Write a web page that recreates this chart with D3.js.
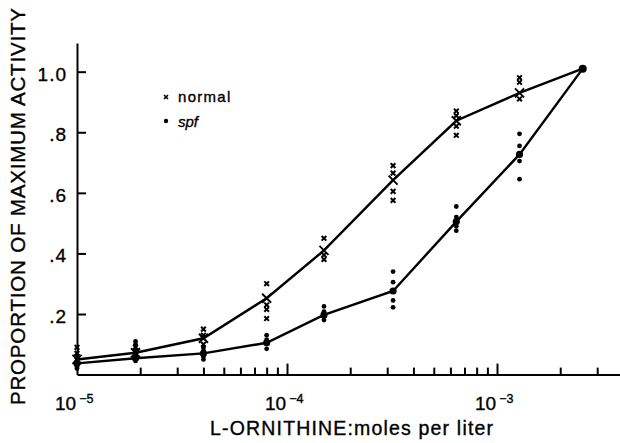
<!DOCTYPE html>
<html>
<head>
<meta charset="utf-8">
<script src="https://cdn.jsdelivr.net/npm/d3@7"></script>
<style>
  body { margin: 0; background: #fff; }
  svg { display: block; font-family: "Liberation Sans", Arial, Helvetica, sans-serif; }
  svg text { stroke: #000; stroke-width: 0.35; }
  .axis path, .axis line { stroke: #000; stroke-width: 2; }
</style>
</head>
<body>
<svg id="chart" width="620" height="443"></svg>
<script>
// concentrations (moles per liter)
const doses = [1e-5, 1.9e-5, 4e-5, 8e-5, 1.5e-4, 3.2e-4, 6.4e-4, 1.28e-3, 2.56e-3];

// line through the means
const normalMean = [0.05, 0.072, 0.12, 0.252, 0.41, 0.642, 0.838, 0.93, 1.01];
const spfMean = [0.037, 0.054, 0.07, 0.105, 0.197, 0.276, 0.505, 0.727, 1.01];

// single determinations at each concentration
const normalPoints = [
    [0.09, 0.07, 0.06],
    [0.09, 0.08, 0.065],
    [0.15, 0.13, 0.10],
    [0.30, 0.23, 0.215, 0.185],
    [0.45, 0.395, 0.38],
    [0.69, 0.665, 0.605, 0.575],
    [0.87, 0.855, 0.82, 0.79],
    [0.98, 0.965, 0.91],
    []
];
const spfPoints = [
    [0.045, 0.03, 0.025, 0.02],
    [0.11, 0.10, 0.06, 0.045],
    [0.09, 0.08, 0.06, 0.05],
    [0.13, 0.115, 0.085],
    [0.225, 0.208, 0.18],
    [0.34, 0.305, 0.245, 0.222],
    [0.555, 0.52, 0.49, 0.475],
    [0.795, 0.755, 0.705, 0.645],
    []
];

const yTicks = [0.2, 0.4, 0.6, 0.8, 1.0];
const decades = [-5, -4, -3];

const svg = d3.select("#chart");

const x = d3.scaleLog().domain([1e-5, 1e-2]).range([77, 707]);
const y = d3.scaleLinear().domain([0, 1.095]).range([374.6, 42.9]);

//  x axis: minor ticks, then the decade ticks taller
const minorTicks = [];
for (let e = -5; e <= -3; e++) {
    for (let m = 2; m <= 9; m++) minorTicks.push(m * Math.pow(10, e));
}
svg.append("g").attr("class", "axis")
    .attr("transform", `translate(0,${y(0)})`)
    .call(d3.axisBottom(x).tickValues(minorTicks).tickSize(-7).tickSizeOuter(0).tickFormat(""));
svg.append("g").attr("class", "axis")
    .attr("transform", `translate(0,${y(0)})`)
    .call(d3.axisBottom(x).tickValues([1e-4, 1e-3]).tickSize(-11).tickSizeOuter(0).tickFormat(""))
    .select(".domain").remove();

//  decade labels with superscript exponent
const xl = svg.append("g").selectAll("text").data(decades).join("text")
    .attr("x", d => x(Math.pow(10, d)) - 22)
    .attr("y", 410)
    .attr("font-size", 19);
xl.append("tspan").text("10");
xl.append("tspan").attr("font-size", 12.5).attr("dx", 3).attr("dy", -7)
    .text(d => "\u2212" + Math.abs(d));

//  y axis, ticks pointing inward
svg.append("g").attr("class", "axis")
    .attr("transform", `translate(${x(1e-5)},0)`)
    .call(d3.axisLeft(y).tickValues(yTicks).tickSize(-9).tickSizeOuter(0).tickPadding(10)
        .tickFormat(d => d === 1 ? "1.0" : d3.format(".1f")(d).replace(/^0/, "")))
    .call(g => g.selectAll("text").attr("font-size", 19).attr("dy", "0.45em")
        .attr("font-family", "'Liberation Sans', Arial, sans-serif").attr("letter-spacing", 1)
        .attr("stroke", "#000").attr("stroke-width", 0.35));

//  axis titles
svg.append("text")
    .attr("x", 210).attr("y", 435)
    .attr("font-size", 19.5)
    .attr("textLength", 283).attr("lengthAdjust", "spacing")
    .text("L-ORNITHINE:moles per liter");

svg.append("text")
    .attr("transform", "translate(25,405) rotate(-90)")
    .attr("font-size", 20.5)
    .attr("textLength", 397).attr("lengthAdjust", "spacing")
    .text("PROPORTION OF MAXIMUM ACTIVITY");

//  lines
const line = d3.line().x((d, i) => x(doses[i])).y(d => y(d));
svg.append("path").datum(normalMean).attr("d", line)
    .attr("fill", "none").attr("stroke", "#000").attr("stroke-width", 2.4);
svg.append("path").datum(spfMean).attr("d", line)
    .attr("fill", "none").attr("stroke", "#000").attr("stroke-width", 2.4);

//  single points
const smallX = d3.symbol(d3.symbolX, 16);
const normFlat = normalPoints.flatMap((arr, i) => arr.map(v => ({ d: doses[i], v })));
const spfFlat = spfPoints.flatMap((arr, i) => arr.map(v => ({ d: doses[i], v })));

svg.append("g").selectAll("path").data(normFlat).join("path")
    .attr("d", smallX)
    .attr("transform", p => `translate(${x(p.d)},${y(p.v)})`)
    .attr("fill", "none").attr("stroke", "#000").attr("stroke-width", 2);

svg.append("g").selectAll("circle").data(spfFlat).join("circle")
    .attr("cx", p => x(p.d)).attr("cy", p => y(p.v)).attr("r", 2.4)
    .attr("fill", "#000");

//  mean markers: open X for normal, big dot for spf
const bigX = d3.symbol(d3.symbolX, 55);
svg.append("g").selectAll("path").data(normalMean.slice(0, 8)).join("path")
    .attr("d", bigX)
    .attr("transform", (v, i) => `translate(${x(doses[i])},${y(v)})`)
    .attr("fill", "none").attr("stroke", "#000").attr("stroke-width", 1.9);

svg.append("g").selectAll("circle").data(spfMean).join("circle")
    .attr("cx", (v, i) => x(doses[i])).attr("cy", v => y(v))
    .attr("r", (v, i) => i === 8 ? 4 : 3.6)
    .attr("fill", "#000");

//  legend
const legend = svg.append("g");
legend.append("path").attr("d", d3.symbol(d3.symbolX, 12))
    .attr("transform", "translate(166,97)")
    .attr("fill", "none").attr("stroke", "#000").attr("stroke-width", 1.6);
legend.append("text").attr("x", 178).attr("y", 102)
    .attr("font-size", 15).attr("letter-spacing", 1.3).text("normal");
legend.append("circle").attr("cx", 166).attr("cy", 121).attr("r", 2.2).attr("fill", "#000");
legend.append("text").attr("x", 178).attr("y", 127)
    .attr("font-size", 15).attr("font-style", "italic").text("spf");
</script>
</body>
</html>
